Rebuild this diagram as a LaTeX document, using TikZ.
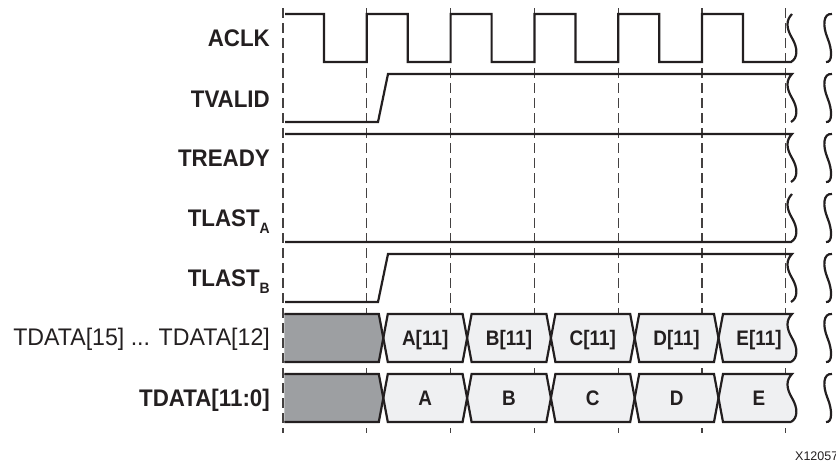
\documentclass[tikz,border=0pt]{standalone}
\usepackage{fontspec}
\setmainfont{Liberation Sans}
\newfontfamily\lblfont[FakeStretch=0.93]{Liberation Sans}
\newfontfamily\lblrfont[FakeStretch=0.965]{Liberation Sans}
\newfontfamily\boxfont[FakeStretch=0.9]{Liberation Sans}
\definecolor{ink}{HTML}{231F20}
\definecolor{dgray}{HTML}{9D9FA2}
\definecolor{lgray}{HTML}{EFF0F2}
\tikzset{
  wave/.style={line width=2.2pt, draw=ink},
  dsh/.style={line width=1.1pt, draw=ink!85, dash pattern=on 10pt off 5pt},
  lbl/.style={anchor=base east, inner sep=0pt, text=ink, font=\lblfont\fontsize{24}{26}\selectfont\bfseries},
  lblr/.style={anchor=base east, inner sep=0pt, text=ink, font=\lblrfont\fontsize{24}{26}\selectfont},
  blbl/.style={anchor=base, inner sep=0pt, text=ink, font=\boxfont\fontsize{21}{22}\selectfont\bfseries},
  sqDn/.style={insert path={.. controls (786,#1+6) and (786,#1+14) .. (792,#1+24) .. controls (798,#1+34) and (798,#1+44) .. (791,#1+48)}},
  sqUp/.style={insert path={.. controls (798,#1+44) and (798,#1+34) .. (792,#1+24) .. controls (786,#1+14) and (786,#1+6) .. (792,#1)}},
  brk/.style={insert path={.. controls (823,#1-1) and (822.5,#1+12) .. (827.5,#1+24) .. controls (832.5,#1+36) and (832.5,#1+49) .. (826,#1+48)}}
}
\begin{document}
\begin{tikzpicture}[x=1pt,y=-1pt]
\useasboundingbox (0,0) rectangle (836,463);
% grid
\foreach \k in {0,...,6} \draw[dsh] ({283+83.8*\k},8) -- ({283+83.8*\k},433);
% labels
\node[lbl] (l-aclk) at (270,46.5) {ACLK};
\node[lbl] (l-tvalid) at (270,107) {TVALID};
\node[lbl] (l-tready) at (270,166.5) {TREADY};
\node[lbl] (l-tlasta) at (270,226.5) {TLAST\raisebox{-7pt}{\fontsize{15}{16}\selectfont A}};
\node[lbl] (l-tlastb) at (270,286.5) {TLAST\raisebox{-7pt}{\fontsize{15}{16}\selectfont B}};
\node[lblr] (l-td15) at (270,345.5) {TDATA[15] ... TDATA[12]};
\node[lbl] (l-td11) at (270,406) {TDATA[11:0]};
% ACLK
\draw[wave] (285,14) -- (324,14) -- (324,62) -- (366.8,62) -- (366.8,14) -- (407.8,14) -- (407.8,62) -- (450.6,62) -- (450.6,14) -- (491.6,14) -- (491.6,62) -- (534.4,62) -- (534.4,14) -- (575.4,14) -- (575.4,62) -- (618.2,62) -- (618.2,14) -- (659.2,14) -- (659.2,62) -- (702,62) -- (702,14) -- (743,14) -- (743,62) -- (791,62) [sqUp=14];
% TVALID
\draw[wave] (285,122) -- (378,122) -- (388,74) -- (792,74) [sqDn=74];
% TREADY
\draw[wave] (285,134) -- (792,134) [sqDn=134];
% TLAST A
\draw[wave] (285,242) -- (791,242) [sqUp=194];
% TLAST B
\draw[wave] (285,302) -- (378,302) -- (388,254) -- (792,254) [sqDn=254];
% data rows
\foreach \T in {314,374} {
  \pgfmathsetmacro\B{\T+48}
  \pgfmathsetmacro\M{\T+24}
  \fill[dgray] (284.3,\T) -- (378.8,\T) -- (383.3,\M) -- (378.8,\B) -- (284.3,\B) -- cycle;
  \foreach \a/\b in {383.3/467.1, 467.1/550.9, 550.9/634.7, 634.7/718.5}
    \fill[lgray] (\a+4.5,\T) -- (\b-4.5,\T) -- (\b,\M) -- (\b-4.5,\B) -- (\a+4.5,\B) -- (\a,\M) -- cycle;
  \fill[lgray] (723,\T) -- (792,\T) [sqDn=\T] -- (723,\B) -- (718.5,\M) -- cycle;
  \draw[wave] (284.3,\T) -- (378.8,\T) -- (387.8,\B) -- (462.6,\B) -- (471.6,\T) -- (546.4,\T) -- (555.4,\B) -- (630.2,\B) -- (639.2,\T) -- (714,\T) -- (723,\B) -- (791,\B);
  \draw[wave] (284.3,\B) -- (378.8,\B) -- (387.8,\T) -- (462.6,\T) -- (471.6,\B) -- (546.4,\B) -- (555.4,\T) -- (630.2,\T) -- (639.2,\B) -- (714,\B) -- (723,\T) -- (792,\T) [sqDn=\T];
}
% data labels
\node[blbl] (d15-a) at (425.2,345.5) {A[11]};
\node[blbl] (d15-b) at (509,345.5) {B[11]};
\node[blbl] (d15-c) at (592.8,345.5) {C[11]};
\node[blbl] (d15-d) at (676.6,345.5) {D[11]};
\node[blbl] (d15-e) at (759,345.5) {E[11]};
\node[blbl] (d11-a) at (425.2,405.5) {A};
\node[blbl] (d11-b) at (509,405.5) {B};
\node[blbl] (d11-c) at (592.8,405.5) {C};
\node[blbl] (d11-d) at (676.6,405.5) {D};
\node[blbl] (d11-e) at (759,405.5) {E};
% break marks
\foreach \t in {14,74,134,194,254,314,374} \draw[wave] (832,\t) [brk=\t];
% figure id
\node[anchor=base west, inner sep=0pt, text=ink, font=\fontsize{12.5}{13}\selectfont] (fig-id) at (795,460) {X12057};
\end{tikzpicture}
\end{document}
